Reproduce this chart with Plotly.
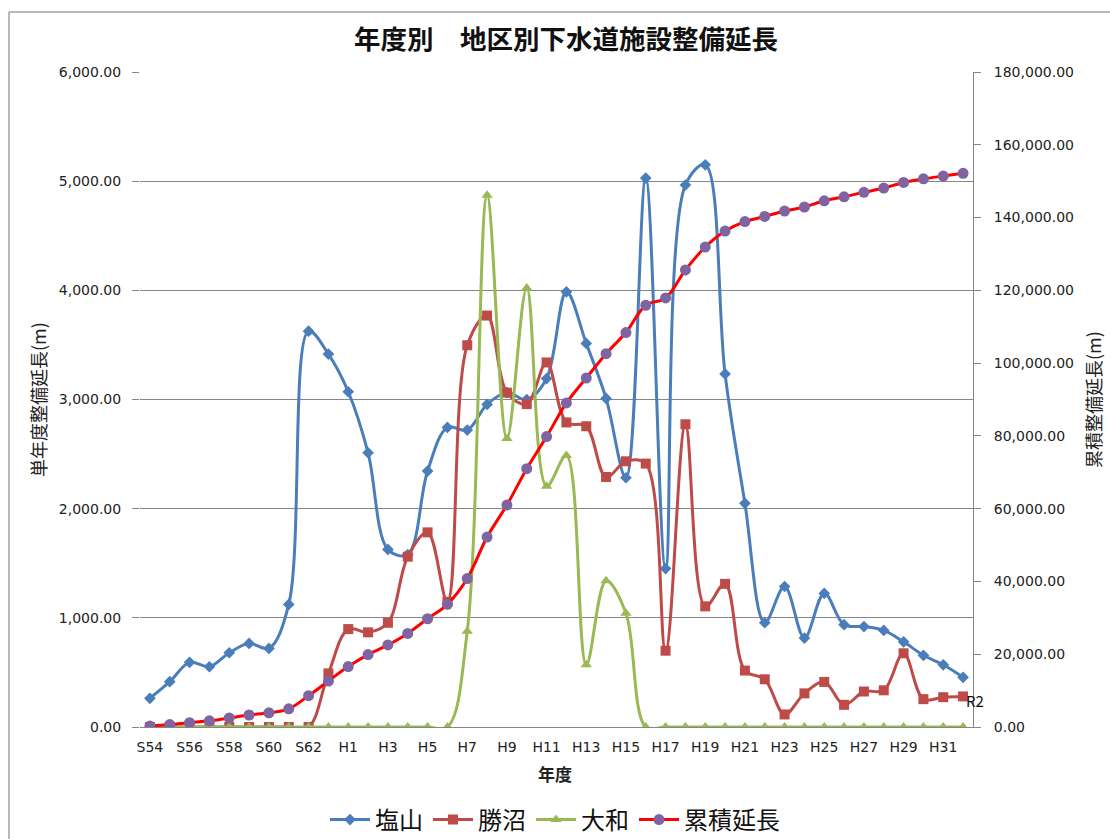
import plotly.graph_objects as go

categories = ["S54", "S55", "S56", "S57", "S58", "S59", "S60", "S61", "S62", "S63"] + \
             ["H%d" % i for i in range(1, 32)] + ["R2"]

shioyama = [263, 415, 592, 552, 680, 766, 720, 1123, 3626, 3416,
            3071, 2512, 1627, 1580, 2344, 2744, 2720, 2955, 3063, 3000,
            3192, 3986, 3514, 3010, 2283, 5028, 1451, 4965, 5150, 3234,
            2049, 955, 1287, 815, 1224, 937, 920, 885, 780, 657,
            570, 455]

katsunuma = [0, 0, 0, 0, 0, 0, 0, 0, 0, 491,
             897, 867, 955, 1560, 1783, 1148, 3497, 3769, 3063, 2958,
             3339, 2790, 2755, 2290, 2434, 2413, 699, 2773, 1105, 1311,
             517, 437, 115, 308, 413, 203, 325, 336, 675, 255,
             273, 280]

yamato = [0, 0, 0, 0, 0, 0, 0, 0, 0, 0,
          0, 0, 0, 0, 0, 0, 878, 4871, 2643, 4021,
          2206, 2486, 570, 1339, 1042, 0, 0, 0, 0, 0,
          0, 0, 0, 0, 0, 0, 0, 0, 0, 0,
          0, 0]

cumulative = [263, 680, 1200, 1700, 2500, 3300, 3900, 5000, 8600, 12640,
              16600, 19900, 22550, 25720, 29750, 33720, 40800, 52200, 61000, 71000,
              79800, 89050, 95900, 102600, 108400, 115900, 117900, 125600, 131900, 136300,
              138900, 140300, 141800, 142900, 144600, 145700, 146950, 148100, 149650, 150630,
              151400, 152150]

tick_labels = categories[::2]

W, H = 1110, 839
def px(x):
    return x / W
def py(y):
    return 1 - y / H

GRID = "#868686"
TXT = "#222222"
FONT = "DejaVu Sans"
CJK = "Noto Sans CJK JP"

fig = go.Figure()
fig.add_trace(go.Scatter(x=categories, y=shioyama, name="塩山", mode="lines+markers",
                         line=dict(color="#4A7EBB", width=3, shape="spline", smoothing=1.0),
                         marker=dict(symbol="diamond", size=9, color="#4A7EBB")))
fig.add_trace(go.Scatter(x=categories, y=katsunuma, name="勝沼", mode="lines+markers",
                         line=dict(color="#BE4B48", width=3, shape="spline", smoothing=1.0),
                         marker=dict(symbol="square", size=10, color="#BE4B48")))
fig.add_trace(go.Scatter(x=categories, y=yamato, name="大和", mode="lines+markers",
                         line=dict(color="#98B954", width=3, shape="spline", smoothing=1.0),
                         marker=dict(symbol="triangle-up", size=10, color="#98B954")))
fig.add_trace(go.Scatter(x=categories, y=cumulative, name="累積延長", mode="lines+markers",
                         yaxis="y2",
                         line=dict(color="#FF0000", width=3, shape="spline", smoothing=1.0),
                         marker=dict(symbol="circle", size=11, color="#8064A2")))

fig.update_layout(
    width=W, height=H,
    margin=dict(l=0, r=0, t=0, b=0, autoexpand=False),
    paper_bgcolor="white", plot_bgcolor="white",
    font=dict(family=FONT, size=14, color=TXT),
    title=dict(text="<b>年度別　地区別下水道施設整備延長</b>", x=px(566), xanchor="center",
               y=py(40), yanchor="middle",
               font=dict(family=CJK, size=26.5, color="#111111")),
    xaxis=dict(domain=[px(140), px(973)], range=[-0.5, 41.5], type="category",
               tickmode="array", tickvals=tick_labels, ticktext=tick_labels,
               showgrid=False, showline=True, linecolor=GRID, linewidth=1,
               ticks="", ticklabelstandoff=7, automargin=False,
               tickfont=dict(family=FONT, size=14, color=TXT), zeroline=False),
    yaxis=dict(domain=[py(727), py(72)], range=[0, 6000], dtick=1000,
               tickformat=",.2f", showgrid=True, gridcolor=GRID, gridwidth=1,
               showline=False, zeroline=False, ticks="outside", ticklen=7, tickcolor=GRID,
               ticklabelstandoff=8, automargin=False,
               tickfont=dict(family=FONT, size=14, color=TXT)),
    yaxis2=dict(overlaying="y", side="right", anchor="x", range=[0, 180000], dtick=20000,
                tickformat=",.2f", showgrid=False, zeroline=False,
                showline=True, linecolor=GRID, linewidth=1, automargin=False,
                ticks="outside", ticklen=7, tickcolor=GRID, ticklabelstandoff=10,
                tickfont=dict(family=FONT, size=14, color=TXT)),
    legend=dict(orientation="h", x=px(555), xanchor="center", y=py(820), yanchor="middle",
                font=dict(family=CJK, size=24, color="#111111"),
                itemwidth=40, bgcolor="rgba(0,0,0,0)"),
    showlegend=True,
)

annotations = [
    dict(text="単年度整備延長(m)", x=px(38), y=py(400), xref="paper", yref="paper",
         xanchor="center", yanchor="middle",
         textangle=-90, showarrow=False, font=dict(family=CJK, size=18, color=TXT)),
    dict(text="累積整備延長(m)", x=px(1093), y=py(400), xref="paper", yref="paper",
         xanchor="center", yanchor="middle",
         textangle=-90, showarrow=False, font=dict(family=CJK, size=18, color=TXT)),
    dict(text="<b>年度</b>", x=px(555), y=py(773), xref="paper", yref="paper",
         xanchor="center", yanchor="middle",
         showarrow=False, font=dict(family=CJK, size=17, color=TXT)),
    dict(text="R2", x=px(975), y=py(700), xref="paper", yref="paper",
         xanchor="center", yanchor="middle",
         showarrow=False, font=dict(family=CJK, size=15, color="#111111")),
]
fig.update_layout(annotations=annotations)

fig.add_shape(type="line", xref="paper", yref="paper", x0=px(9), x1=px(9), y0=py(12), y1=0,
              line=dict(color="#A0A0A0", width=1.5))
fig.add_shape(type="line", xref="paper", yref="paper", x0=px(9), x1=1, y0=py(12), y1=py(12),
              line=dict(color="#A0A0A0", width=1.5))

fig.write_html("out.html", config={"displayModeBar": False},
               post_script="document.body.style.margin='0';document.body.style.overflow='hidden';")
